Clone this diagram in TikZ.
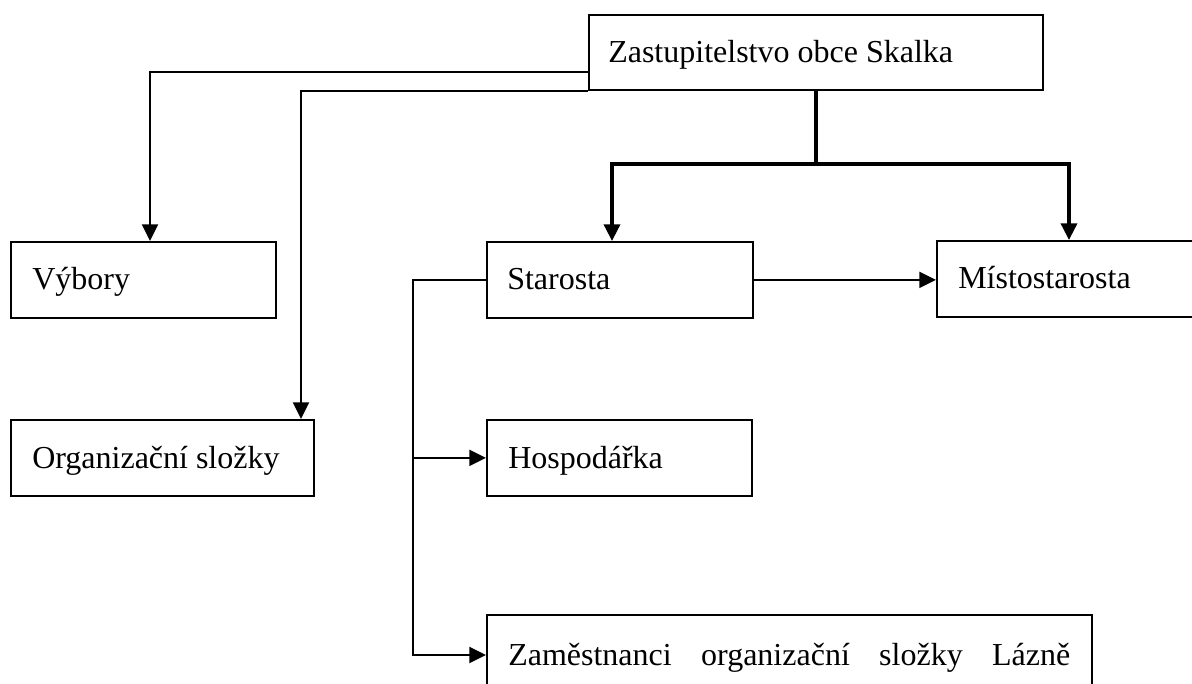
\documentclass[tikz,border=0pt]{standalone}
\usepackage{fontspec}
\setmainfont{Liberation Serif}
\usetikzlibrary{arrows.meta}
\begin{document}
\begin{tikzpicture}[x=0.75pt,y=-0.75pt,
  box/.style={draw, line width=1.3pt, rectangle, anchor=north west, inner sep=0pt},
  lbl/.style={anchor=base west, inner sep=0pt, font=\fontsize{24}{28}\selectfont},
  thinline/.style={line width=1.5pt},
  thickline/.style={line width=2.6pt},
  arr/.style={-{Triangle[length=12.5pt,width=12pt]}},
  ]
\useasboundingbox (0,0) rectangle (1192,684);
% boxes
\node[box, minimum width=340.5pt, minimum height=56.25pt] (zast) at (588,14) {};
\node[box, minimum width=198.75pt, minimum height=57pt] (vyb) at (10,241) {};
\node[box, minimum width=227.25pt, minimum height=57pt] (org) at (10,419) {};
\node[box, minimum width=199.5pt, minimum height=57pt] (star) at (486,241) {};
\node[box, minimum width=225pt, minimum height=57pt] (mist) at (936,240) {};
\node[box, minimum width=198.75pt, minimum height=57pt] (hosp) at (486,419) {};
\node[box, minimum width=453.75pt, minimum height=75pt] (zam) at (486,614) {};
% labels
\node[lbl] (tzast) at (608,63) {Zastupitelstvo obce Skalka};
\node[lbl] (tvyb) at (32,290) {Výbory};
\node[lbl] (torg) at (32,468) {Organizační složky};
\node[lbl] (tstar) at (507,290) {Starosta};
\node[lbl] (tmist) at (958,289) {Místostarosta};
\node[lbl] (thosp) at (508,468) {Hospodářka};
\node[lbl] (tzam) at (508,665) {\makebox[421.5pt][s]{Zaměstnanci organizační složky Lázně}};
% connectors
\draw[thinline, arr] (zast.west |- 0,72) -| (vyb.north -| 150,0);
\draw[thinline, arr] (zast.south west) -| (org.north -| 301,0);
\coordinate (junc) at (zast.south |- 0,164);
\draw[thickline, arr] (zast.south) -- (junc) -| (star.north -| 612,0);
\draw[thickline, arr] (zast.south) -- (junc) -| (mist.north -| 1069,0);
\draw[thinline, arr] (star.east) -- (mist.west |- star.east);
\coordinate (bus) at (413,0);
\draw[thinline, arr] (star.west) -| (bus |- 0,655) -- (zam.west |- 0,655);
\draw[thinline, arr] (bus |- hosp.west) -- (hosp.west);
\end{tikzpicture}
\end{document}
